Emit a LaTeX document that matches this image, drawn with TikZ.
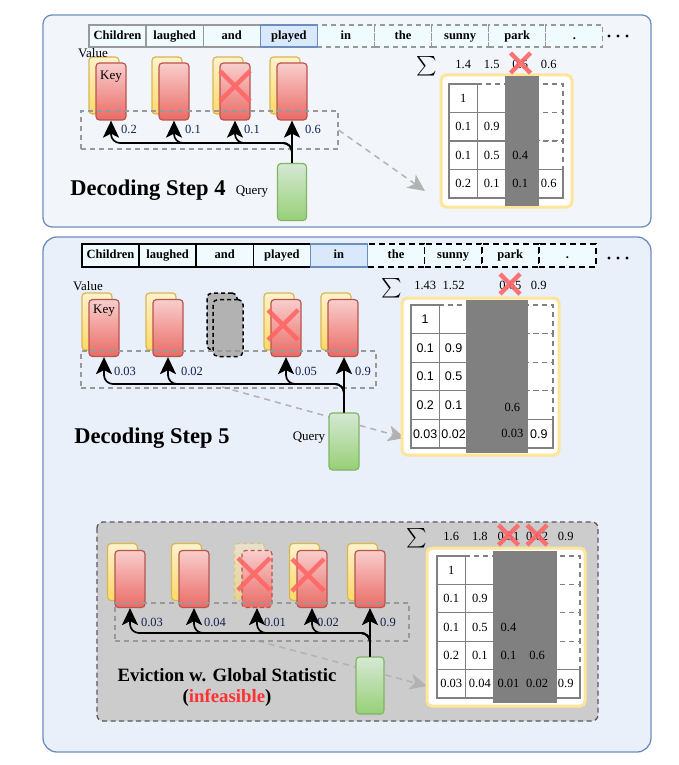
\documentclass[tikz,border=0pt]{standalone}
\usepackage{exscale}
\usepackage{fontspec}
\setmainfont{Liberation Serif}
\newfontfamily\numsans{Liberation Sans}
\usetikzlibrary{arrows.meta}
\definecolor{pblue}{HTML}{6C8EBF}
\definecolor{pfillA}{HTML}{F2F6FB}
\definecolor{pfillB}{HTML}{E9F0FA}
\definecolor{tokfill}{HTML}{F0FBFF}
\definecolor{hlfill}{HTML}{DAE8FC}
\definecolor{keyline}{HTML}{B85450}
\definecolor{keytop}{HTML}{F8CECC}
\definecolor{keybot}{HTML}{EA6B66}
\definecolor{valline}{HTML}{D6B656}
\definecolor{valtop}{HTML}{FFF2CC}
\definecolor{valbot}{HTML}{FFD966}
\definecolor{qline}{HTML}{82B366}
\definecolor{qtop}{HTML}{D5E8D4}
\definecolor{qbot}{HTML}{97D077}
\definecolor{framey}{HTML}{FFE599}
\definecolor{xred}{HTML}{FF6666}
\definecolor{infred}{HTML}{FF3333}
\definecolor{labnavy}{HTML}{14204F}
\newcommand\RedX[4]{\draw[xline,line width=#4] ({#1-#3},{#2-#3}) -- ({#1+#3},{#2+#3}) ({#1-#3},{#2+#3}) -- ({#1+#3},{#2-#3});}
\tikzset{
 panelbox/.style={draw=pblue, line width=1.3pt},
 tok/.style={minimum width=57pt, minimum height=22pt, inner sep=0pt, text height=9pt, text depth=2.5pt, font=\fontsize{12.5}{14}\selectfont\bfseries, fill=tokfill},
 tokA/.style={tok, draw=black!40, line width=1.2pt},
 tokAd/.style={tokA, dash pattern=on 5pt off 4pt},
 tokB/.style={tok, draw=black, line width=1.5pt, minimum height=23pt},
 tokBd/.style={tokB, dash pattern=on 6pt off 4pt},
 tokhl/.style={tok, fill=hlfill, draw=pblue, line width=1.5pt},
 keycard/.style={draw=keyline, top color=keytop, bottom color=keybot, rounded corners=3.5pt, line width=1.2pt, minimum width=30pt, minimum height=57pt, inner sep=0pt},
 valcard/.style={draw=valline, top color=valtop, bottom color=valbot, rounded corners=3.5pt, line width=1.2pt, minimum width=30pt, minimum height=57pt, inner sep=0pt},
 qcard/.style={draw=qline, top color=qtop, bottom color=qbot, rounded corners=3.5pt, line width=1.2pt, minimum width=29pt, minimum height=57pt, inner sep=0pt},
 ghost/.style={draw=black, fill=black!30, dash pattern=on 4pt off 3pt, line width=1.5pt, rounded corners=5pt, minimum width=30pt, minimum height=57pt, inner sep=0pt},
 region/.style={draw=black!40, line width=1.2pt, dash pattern=on 5pt off 4pt, inner sep=0pt},
 lbl/.style={font=\fontsize{13}{15}\selectfont, inner sep=0pt},
 wnum/.style={font=\fontsize{12.5}{14}\selectfont, inner sep=0pt},
 anum/.style={wnum, text=labnavy},
 snum/.style={font=\fontsize{12.5}{14}\selectfont\numsans, inner sep=0pt},
 bline/.style={draw=black, line width=1.7pt, rounded corners=9pt},
 btip/.style={draw=black, line width=1.7pt, -{Stealth[length=17pt,width=16pt,inset=4pt]}},
 trunk/.style={draw=black, line width=2.7pt, -{Stealth[length=17pt,width=16pt,inset=4pt]}},
 cue/.style={draw=black!30, line width=1.5pt, dash pattern=on 6pt off 5pt, -{Stealth[length=17pt,width=16pt,inset=4.5pt]}},
 matframe/.style={draw=framey, fill=white, line width=3pt, rounded corners=5pt, inner sep=0pt},
 scell/.style={draw=black!50, line width=1.3pt, fill=white, inner sep=0pt},
 dcell/.style={scell, dash pattern=on 5pt off 4pt},
 band/.style={fill=black!50},
 xline/.style={draw=xred, opacity=0.9},
 title/.style={font=\fontsize{22.5}{26}\selectfont\bfseries, inner sep=0pt},
 sumsig/.style={inner sep=0pt, scale=1.95},
}
\begin{document}
\begin{tikzpicture}[x=1pt,y=-1pt]
\useasboundingbox (0,0) rectangle (678,765);

%% ================= PANEL 1 : Decoding Step 4 =================
\draw[panelbox, fill=pfillA, rounded corners=9pt] (43,15) rectangle (651,227);

% tokens
\foreach \t [count=\i] in {Children,laughed,and,played,in,the,sunny,park,.}{
  \ifnum\i>4 \node[tokAd] (ta\i) at ({89+57.1*(\i-0.5)},36) {\t}; \fi
}
\foreach \t [count=\i] in {Children,laughed,and,played}{
  \ifnum\i<4 \node[tokA] (ta\i) at ({89+57.1*(\i-0.5)},36) {\t}; \fi
}
\node[tokhl] (ta4) at ({89+57.1*3.5},36) {played};
\foreach \d in {0,1,2} \fill (609+9*\d,36) circle (1.7pt);

% cue arrow
\node[region, minimum width=257pt, minimum height=38pt] (ra) at (209.5,130) {};
\coordinate (cueA) at (425,191);
\draw[cue] (ra.east) -- (cueA);

% K/V cards
\foreach \x [count=\i] in {111,174,235,292}{
  \node[valcard] (va\i) at (\x-7,85.5) {};
  \node[keycard] (ka\i) at (\x,91.5) {};
}
\node[lbl] (vlabA) at (93,53) {Value};
\node[lbl] (klabA) at (111,77) {Key};
\RedX{235}{86}{15}{4.5pt}
\node[region, minimum width=257pt, minimum height=38pt] (ra2) at (209.5,130) {};

% query and arrows
\node[qcard] (qa) at (292,192) {};
\node[lbl] (qla) at (252,192) {Query};
\coordinate (busA) at (0,143);
\foreach \i in {1,2,3}{
  \draw[bline] (qa.north) -- (qa.north |- busA) -- (ka\i.south |- busA) -- ([yshift=-12pt]ka\i.south);
  \draw[btip] ([yshift=-12pt]ka\i.south) -- (ka\i.south);
}
\draw[trunk] (qa.north) -- (ka4.south);
\node[anum] (la1) at (129,129) {0.2};
\node[anum] (la2) at (193,129) {0.1};
\node[anum] (la3) at (252,129) {0.1};
\node[anum] (la4) at (313,129) {0.6};
\node[title] (tta) at (148,190) {Decoding Step 4};

% matrix
\node[matframe, minimum width=131pt, minimum height=132pt] (fa) at (506.5,141) {};
\foreach \r in {1,...,4}{\foreach \c in {1,...,4}{
  \ifnum\c>\r \node[dcell, minimum width=28.5pt, minimum height=28.5pt] (ma-\r-\c) at ({449+28.5*(\c-0.5)},{84+28.5*(\r-0.5)}) {}; \fi }}
\foreach \r in {1,...,4}{\foreach \c in {1,...,4}{
  \ifnum\c>\r \else \node[scell, minimum width=28.5pt, minimum height=28.5pt] (ma-\r-\c) at ({449+28.5*(\c-0.5)},{84+28.5*(\r-0.5)}) {}; \fi }}
\fill[band] (505,76) rectangle (539,206);
\foreach \r/\c/\v in {1/1/1,2/1/0.1,2/2/0.9,3/1/0.1,3/2/0.5,3/3/0.4,4/1/0.2,4/2/0.1,4/3/0.1,4/4/0.6}
  \node[wnum] (na-\r-\c) at (ma-\r-\c) {\v};
\node[sumsig] (siga) at (427,66) {$\sum$};
\foreach \v [count=\c] in {1.4,1.5,0.5,0.6}
  \node[wnum] (sa\c) at ({449+28.5*(\c-0.5)},64) {\v};
\RedX{520.5}{63}{10}{4.5pt}

%% ================= PANEL 2 : Decoding Step 5 =================
\draw[panelbox, fill=pfillB, rounded corners=14pt] (43,237) rectangle (651,752);

\foreach \t [count=\i] in {Children,laughed,and,played,in,the,sunny,park,.}{
  \ifnum\i>5 \node[tokBd] (tb\i) at ({82+57.1*(\i-0.5)},255.5) {\t}; \fi
}
\foreach \t [count=\i] in {Children,laughed,and,played}{
  \node[tokB] (tb\i) at ({82+57.1*(\i-0.5)},255.5) {\t};
}
\node[tokhl, minimum height=23pt] (tb5) at ({82+57.1*4.5},255.5) {in};
\foreach \d in {0,1,2} \fill (609+9*\d,258) circle (1.7pt);

% cue arrow
\coordinate (cueB1) at (222,387);
\coordinate (cueB2) at (405,438);
\draw[cue] (cueB1) -- (cueB2);

% cards
\foreach \x [count=\i] in {104,168,228,286,343}{
  \ifnum\i=3
    \node[ghost] (vb\i) at (\x-6,321.5) {};
    \node[ghost] (kb\i) at (\x,328) {};
  \else
    \node[valcard] (vb\i) at (\x-7,321.5) {};
    \node[keycard] (kb\i) at (\x,328) {};
  \fi
}
\node[lbl] (vlabB) at (88,286) {Value};
\node[lbl] (klabB) at (104,311) {Key};
\RedX{283}{325}{15}{4.5pt}
\node[region, minimum width=295pt, minimum height=37pt] (rb) at (228.5,369.5) {};

\node[qcard, minimum width=30pt] (qb) at (344,441.5) {};
\node[lbl] (qlb) at (309,438) {Query};
\coordinate (busB) at (0,384);
\foreach \i in {1,2,4}{
  \draw[bline] (qb.north) -- (qb.north |- busB) -- (kb\i.south |- busB) -- ([yshift=-12pt]kb\i.south);
  \draw[btip] ([yshift=-12pt]kb\i.south) -- (kb\i.south);
}
\draw[trunk] (qb.north) -- (qb.north |- kb5.south);
\node[anum] (lb1) at (125,371) {0.03};
\node[anum] (lb2) at (192,371) {0.02};
\node[anum] (lb4) at (306,371) {0.05};
\node[anum] (lb5) at (363,371) {0.9};
\node[title] (ttb) at (152,438) {Decoding Step 5};

% matrix
\node[matframe, minimum width=157pt, minimum height=157pt] (fb) at (480.5,376.5) {};
\foreach \r in {1,...,5}{\foreach \c in {1,...,5}{
  \ifnum\c>\r \node[dcell, minimum width=28.4pt, minimum height=28.6pt] (mb-\r-\c) at ({411+28.4*(\c-0.5)},{305+28.6*(\r-0.5)}) {}; \fi }}
\foreach \r in {1,...,5}{\foreach \c in {1,...,5}{
  \ifnum\c>\r \else \node[scell, minimum width=28.4pt, minimum height=28.6pt] (mb-\r-\c) at ({411+28.4*(\c-0.5)},{305+28.6*(\r-0.5)}) {}; \fi }}
\fill[band] (466,300) rectangle (528,453);
\foreach \r/\c/\v in {1/1/1,2/1/0.1,2/2/0.9,3/1/0.1,3/2/0.5,4/1/0.2,4/2/0.1,5/1/0.03,5/2/0.02,5/5/0.9}
  \node[snum] (nb-\r-\c) at (mb-\r-\c) {\v};
\node[wnum] (nb-4-4) at ([xshift=2pt,yshift=-2pt]mb-4-4.center) {0.6};
\node[wnum] (nb-5-4) at ([xshift=2pt]mb-5-4.center) {0.03};
\node[sumsig] (sigb) at (392,288) {$\sum$};
\node[wnum] (sb1) at ({411+28.4*0.5},285) {1.43};
\node[wnum] (sb2) at ({411+28.4*1.5},285) {1.52};
\node[wnum] (sb4) at ({411+28.4*3.5},285) {0.65};
\node[wnum] (sb5) at ({411+28.4*4.5},285) {0.9};
\RedX{510}{284}{10}{4.5pt}

%% ================= Global statistic box =================
\draw[draw=black!65, fill=black!20, line width=1.3pt, dash pattern=on 5pt off 3.5pt, rounded corners=6pt] (97,522) rectangle (598,721);
\coordinate (cueC1) at (258,641);
\coordinate (cueC2) at (427,686);
\draw[cue] (cueC1) -- (cueC2);

\foreach \x [count=\i] in {130,194,257,312,370}{
  \ifnum\i=3
    \node[valcard, dash pattern=on 4pt off 3pt, opacity=0.55] (vc\i) at (\x-7.5,572) {};
    \node[keycard, dash pattern=on 4pt off 3pt] (kc\i) at (\x,579) {};
  \else
    \node[valcard] (vc\i) at (\x-7.5,572) {};
    \node[keycard] (kc\i) at (\x,579) {};
  \fi
}
\RedX{254}{574}{16}{4.5pt}
\RedX{308}{575}{16}{4.5pt}
\node[region, minimum width=294pt, minimum height=38pt] (rc) at (262,622) {};

\node[qcard, minimum width=28pt] (qc) at (370,685.5) {};
\coordinate (busC) at (0,633);
\foreach \i in {1,2,3,4}{
  \draw[bline] (qc.north) -- (qc.north |- busC) -- (kc\i.south |- busC) -- ([yshift=-12pt]kc\i.south);
  \draw[btip] ([yshift=-12pt]kc\i.south) -- (kc\i.south);
}
\draw[trunk] (qc.north) -- (kc5.south);
\node[anum] (lc1) at (152,622) {0.03};
\node[anum] (lc2) at (215,622) {0.04};
\node[anum] (lc3) at (275,622) {0.01};
\node[anum] (lc4) at (328,622) {0.02};
\node[anum] (lc5) at (388,622) {0.9};
\node[font=\fontsize{18.8}{22}\selectfont\bfseries, inner sep=0pt] (ttc) at (227,675) {Eviction w. Global Statistic};
\node[font=\fontsize{18.8}{22}\selectfont\bfseries, inner sep=0pt] (ttc2) at (227,698) {(\textcolor{infred}{infeasible})};

\node[matframe, minimum width=158pt, minimum height=158pt] (fc) at (506,627) {};
\foreach \r in {1,...,5}{\foreach \c in {1,...,5}{
  \ifnum\c>\r \node[dcell, minimum width=28.6pt, minimum height=28.4pt] (mc-\r-\c) at ({437+28.6*(\c-0.5)},{556+28.4*(\r-0.5)}) {}; \fi }}
\foreach \r in {1,...,5}{\foreach \c in {1,...,5}{
  \ifnum\c>\r \else \node[scell, minimum width=28.6pt, minimum height=28.4pt] (mc-\r-\c) at ({437+28.6*(\c-0.5)},{556+28.4*(\r-0.5)}) {}; \fi }}
\fill[band] (493,551) rectangle (557,703);
\foreach \r/\c/\v in {1/1/1,2/1/0.1,2/2/0.9,3/1/0.1,3/2/0.5,3/3/0.4,4/1/0.2,4/2/0.1,4/3/0.1,4/4/0.6,5/1/0.03,5/2/0.04,5/3/0.01,5/4/0.02,5/5/0.9}
  \node[wnum] (nc-\r-\c) at (mc-\r-\c) {\v};
\node[sumsig] (sigc) at (417,538) {$\sum$};
\foreach \v [count=\c] in {1.6,1.8,0.51,0.62,0.9}
  \node[wnum] (sc\c) at ({437+28.6*(\c-0.5)},536) {\v};
\RedX{508.5}{535}{10}{4.5pt}
\RedX{537}{535}{10}{4.5pt}
\end{tikzpicture}
\end{document}
